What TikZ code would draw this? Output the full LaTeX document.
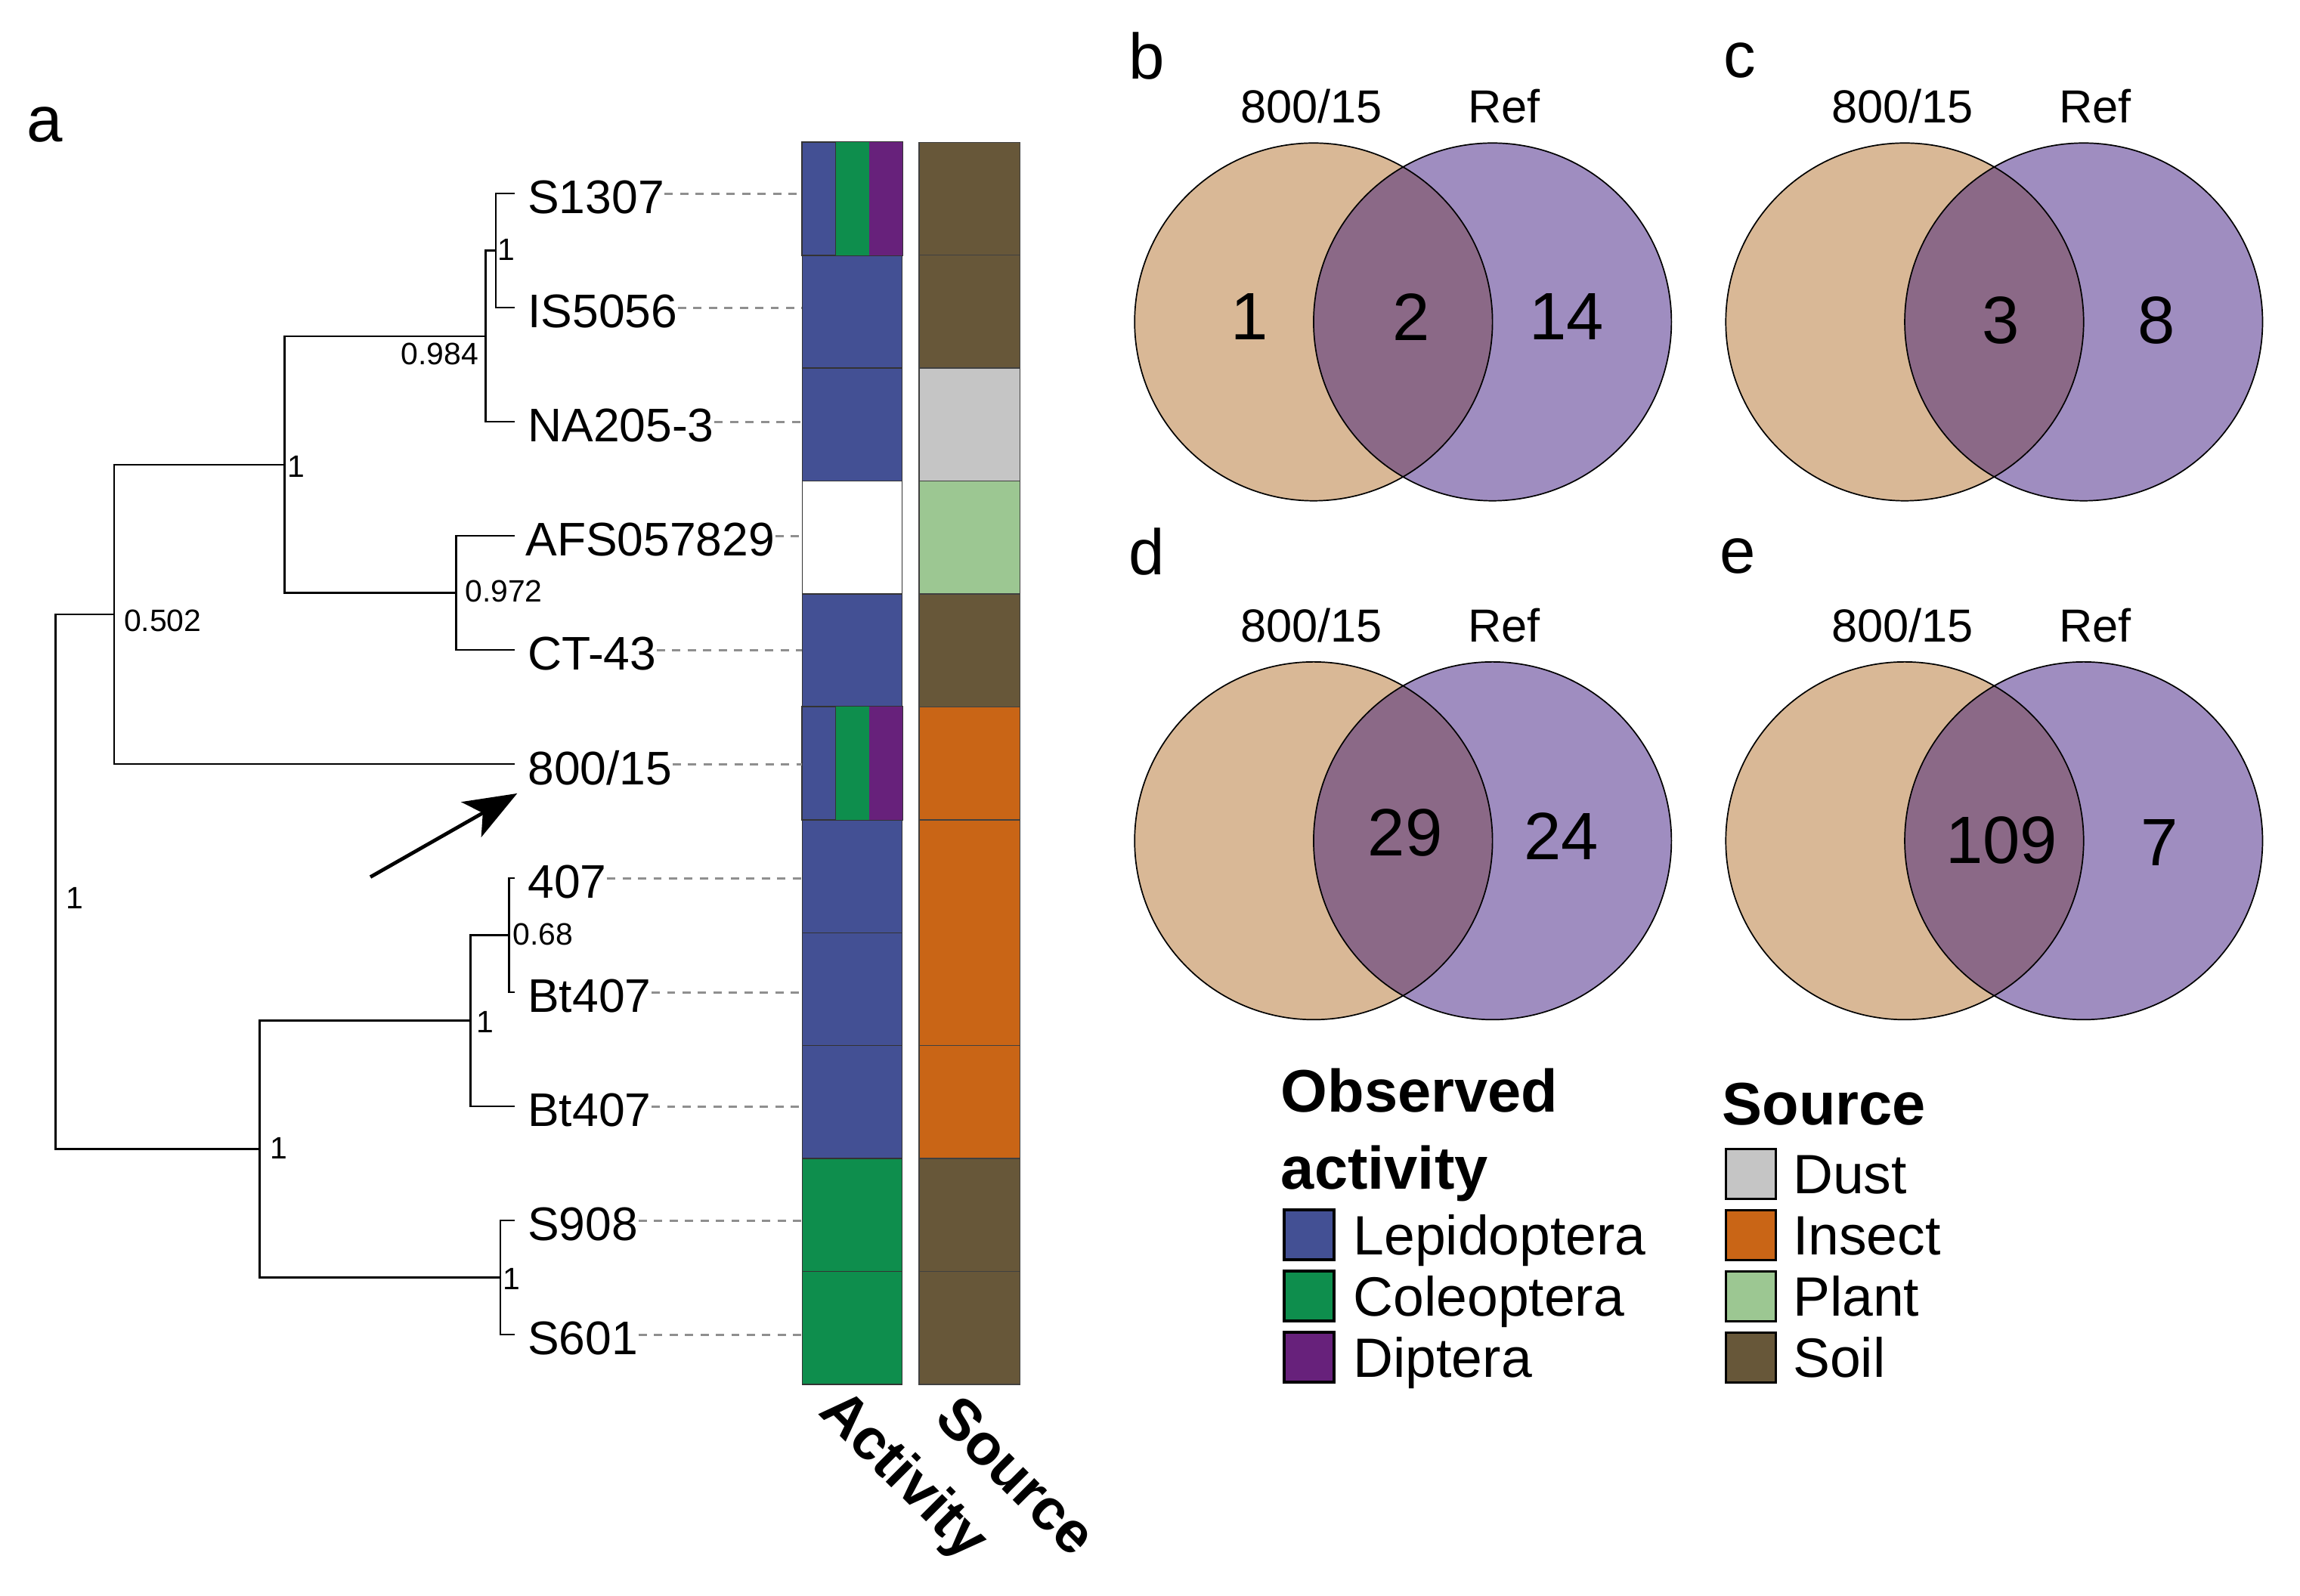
\documentclass[tikz,border=0pt]{standalone}
\usepackage{fontspec}
\setmainfont{Liberation Sans}
\usepackage{xcolor}
\usepackage{tikz}
\usetikzlibrary{positioning,arrows.meta}

\definecolor{lepi}{HTML}{435094}
\definecolor{cole}{HTML}{0E8E4D}
\definecolor{dipt}{HTML}{67217B}
\definecolor{dust}{HTML}{C5C5C5}
\definecolor{insect}{HTML}{C96516}
\definecolor{plant}{HTML}{9CC792}
\definecolor{soil}{HTML}{675739}
\definecolor{venna}{HTML}{D9B896}
\definecolor{vennb}{HTML}{9F8DC0}
\definecolor{vennab}{HTML}{8B6987}
\definecolor{dashgray}{HTML}{8F8F8F}

\begin{document}
\begin{tikzpicture}[x=0.02cm,y=-0.02cm,
  leaf/.style={font=\fontsize{18.3}{20}\selectfont, inner xsep=0pt, inner ysep=1pt, yshift=-1.5pt},
  sup/.style={font=\fontsize{12}{14}\selectfont, inner sep=0pt},
  branch/.style={line width=0.75pt},
  guide/.style={draw=dashgray, line width=0.9pt, dash pattern=on 3.2pt off 2.8pt},
  cell/.style={draw=black!80, line width=0.4pt, minimum width=1.36cm, minimum height=1.54cm, inner sep=0pt},
  panel/.style={font=\fontsize{25}{28}\selectfont, inner sep=0pt, anchor=base west},
  setlab/.style={font=\fontsize{18}{20}\selectfont, inner sep=0pt},
  setnum/.style={font=\fontsize{26}{28}\selectfont, inner sep=0pt},
  keytitle/.style={font=\bfseries\fontsize{23.3}{26}\selectfont, inner sep=0pt, anchor=base west},
  keybox/.style={draw=black, line width=1pt, minimum size=0.68cm, inner sep=0pt},
  keytext/.style={font=\fontsize{21.5}{24}\selectfont, inner sep=0pt, text height=15.4pt, text depth=0pt},
  collab/.style={font=\bfseries\fontsize{22.5}{24}\selectfont, rotate=-45, inner sep=0pt}]

\useasboundingbox (0,0) rectangle (1568,1088);

\node[panel] (pa) at (18,96.5) {a};

\coordinate (r) at (38,601.2);
\coordinate (n5) at (77.7,418.9);
\coordinate (n3) at (194,316.8);
\coordinate (n2) at (331,229.3);
\coordinate (n1) at (338,170.9);
\coordinate (n4) at (311,404.3);
\coordinate (n7) at (177,783.6);
\coordinate (n8) at (320.7,696);
\coordinate (n9) at (347,637.7);
\coordinate (n10) at (341,871.1);
\foreach \i in {1,...,11}
  \coordinate (t\i) at (351,{132+77.8*(\i-1)});

\node[leaf, right=0.17cm of t1] (l1) {S1307};
\node[leaf, right=0.17cm of t2] (l2) {IS5056};
\node[leaf, right=0.17cm of t3] (l3) {NA205-3};
\node[leaf, right=0.14cm of t4] (l4) {AFS057829};
\node[leaf, right=0.17cm of t5] (l5) {CT-43};
\node[leaf, right=0.17cm of t6] (l6) {800/15};
\node[leaf, right=0.17cm of t7] (l7) {407};
\node[leaf, right=0.17cm of t8] (l8) {Bt407};
\node[leaf, right=0.17cm of t9] (l9) {Bt407};
\node[leaf, right=0.17cm of t10] (l10) {S908};
\node[leaf, right=0.17cm of t11] (l11) {S601};

\draw[branch] (r) |- (n5) (r) |- (n7)
  (n5) |- (n3) (n5) |- (t6)
  (n3) |- (n2) (n3) |- (n4)
  (n2) |- (n1) (n2) |- (t3)
  (n1) |- (t1) (n1) |- (t2)
  (n4) |- (t4) (n4) |- (t5)
  (n7) |- (n8) (n7) |- (n10)
  (n8) |- (n9) (n8) |- (t9)
  (n9) |- (t7) (n9) |- (t8)
  (n10) |- (t10) (n10) |- (t11);

\node[sup, anchor=west] (s1) at (339,170.5) {1};
\node[sup, anchor=north east] (s2) at (326.5,233.7) {0.984};
\node[sup, anchor=west] (s3) at (195.7,318) {1};
\node[sup, anchor=west] (s4) at (316.7,403) {0.972};
\node[sup, anchor=west] (s5) at (84.2,423.5) {0.502};
\node[sup, anchor=west] (s6) at (44.7,612.5) {1};
\node[sup, anchor=west] (s7) at (183.7,783) {1};
\node[sup, anchor=west] (s8) at (324.7,697) {1};
\node[sup, anchor=west] (s9) at (349.2,637.3) {0.68};
\node[sup, anchor=west] (s10) at (342.7,872) {1};

\foreach \c [count=\i] in {lepi,lepi,lepi,white,lepi,lepi,lepi,lepi,lepi,cole,cole}
  \node[cell, fill=\c] (a\i) at (581,{97+77*(\i-0.5)}) {};
\foreach \i in {1,6} {
  \fill[cole] (569.7,{97+77*(\i-1)}) rectangle (592.6,{97+77*\i});
  \fill[dipt] (592.6,{97+77*(\i-1)}) rectangle (615,{97+77*\i});
  \draw[black!80, line width=0.4pt] (a\i.north west) rectangle (a\i.south east)
    (569.7,{97+77*(\i-1)}) -- (569.7,{97+77*\i});
}
\foreach \i in {1,...,11}
  \draw[guide] (l\i.east |- t\i) -- (a\i.west |- t\i);

\foreach \c/\p/\q in {soil/0/1,soil/1/2,dust/2/3,plant/3/4,soil/4/5,insect/5/6,insect/6/8,insect/8/9,soil/9/10,soil/10/11}
  \filldraw[fill=\c, draw=black!75, line width=0.4pt] (626.6,{97+77*\p}) rectangle (695.3,{97+77*\q});

\node[collab] (ca) at (615,1007) {Activity};
\node[collab] (cs) at (693,1006) {Source};

\coordinate (ar1) at (252.5,598);
\coordinate (ar2) at (352.6,541);
\draw[line width=1.4pt, -{Stealth[length=0.72cm,width=0.55cm,inset=0.18cm]}] (ar1) -- (ar2);

\foreach \cx/\cy/\k in {895.5/219.5/b,1298.5/219.5/c,895.5/573.3/d,1298.5/573.3/e} {
  \coordinate (L\k) at (\cx,\cy);
  \coordinate (R\k) at ({\cx+122},\cy);
  \fill[venna] (L\k) circle[radius=2.44cm];
  \fill[vennb] (R\k) circle[radius=2.44cm];
  \begin{scope}
    \clip (L\k) circle[radius=2.44cm];
    \fill[vennab] (R\k) circle[radius=2.44cm];
  \end{scope}
  \draw[line width=0.5pt] (L\k) circle[radius=2.44cm] (R\k) circle[radius=2.44cm];
  \node[setlab] (x\k) at ({\cx-1.5},{\cy-147}) {800/15};
  \node[setlab] (y\k) at ({\cx+130},{\cy-147}) {Ref};
}

\node[panel] (pb) at (769,53.6) {b};
\node[panel] (pc) at (1174.7,52.9) {c};
\node[panel] (pd) at (769,391.7) {d};
\node[panel] (pe) at (1172,390.6) {e};

\node[setnum] (m1) at (851.8,216) {1};
\node[setnum] (m2) at (961.9,216) {2};
\node[setnum] (m3) at (1068,216) {14};
\node[setnum] (m4) at (1364,218.6) {3};
\node[setnum] (m5) at (1470,218.6) {8};
\node[setnum] (m6) at (958,567.8) {29};
\node[setnum] (m7) at (1064.5,570) {24};
\node[setnum] (m8) at (1364.5,573) {109};
\node[setnum] (m9) at (1472,574.7) {7};

\node[keytitle] (kt1) at (873,758.3) {Observed};
\node[keytitle] (kt2) at (873,810.7) {activity};
\node[keybox, fill=lepi] (k1) at (892.4,842) {};
\node[keybox, fill=cole, below=0.12cm of k1] (k2) {};
\node[keybox, fill=dipt, below=0.12cm of k2] (k3) {};
\node[keytext, right=0.24cm of k1] (kl1) {Lepidoptera};
\node[keytext, right=0.24cm of k2] (kl2) {Coleoptera};
\node[keytext, right=0.24cm of k3] (kl3) {Diptera};

\node[keytitle] (kt3) at (1173.7,766.9) {Source};
\node[keybox, fill=dust] (k4) at (1193.6,800.5) {};
\node[keybox, fill=insect, below=0.12cm of k4] (k5) {};
\node[keybox, fill=plant, below=0.12cm of k5] (k6) {};
\node[keybox, fill=soil, below=0.12cm of k6] (k7) {};
\node[keytext, right=0.21cm of k4] (kl4) {Dust};
\node[keytext, right=0.21cm of k5] (kl5) {Insect};
\node[keytext, right=0.21cm of k6] (kl6) {Plant};
\node[keytext, right=0.21cm of k7] (kl7) {Soil};
\end{tikzpicture}
\end{document}
